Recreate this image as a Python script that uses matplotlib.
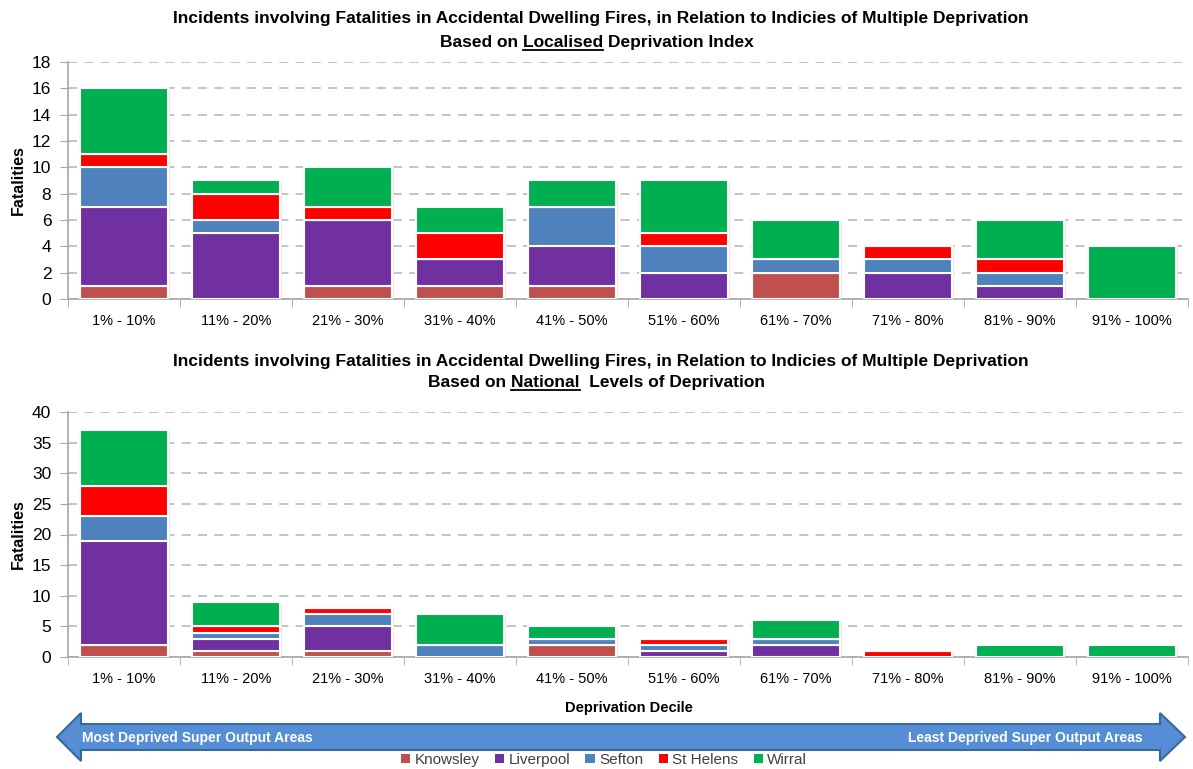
import matplotlib
matplotlib.use('Agg')
import matplotlib.pyplot as plt
import numpy as np
from matplotlib.patches import Polygon, Patch
from matplotlib.lines import Line2D

plt.rcParams['font.family'] = ['Liberation Sans Narrow', 'Liberation Sans', 'DejaVu Sans']

deciles = ['1% - 10%', '11% - 20%', '21% - 30%', '31% - 40%', '41% - 50%',
           '51% - 60%', '61% - 70%', '71% - 80%', '81% - 90%', '91% - 100%']
areas = ['Knowsley', 'Liverpool', 'Sefton', 'St Helens', 'Wirral']
area_colours = ['#C0504D', '#7030A0', '#4F81BD', '#FF0000', '#00B050']

# localised deprivation index
local_knowsley = [1, 0, 1, 1, 1, 0, 2, 0, 0, 0]
local_liverpool = [6, 5, 5, 2, 3, 2, 0, 2, 1, 0]
local_sefton = [3, 1, 0, 0, 3, 2, 1, 1, 1, 0]
local_sthelens = [1, 2, 1, 2, 0, 1, 0, 1, 1, 0]
local_wirral = [5, 1, 3, 2, 2, 4, 3, 0, 3, 4]

# national levels of deprivation
national_knowsley = [2, 1, 1, 0, 2, 0, 0, 0, 0, 0]
national_liverpool = [17, 2, 4, 0, 0, 1, 2, 0, 0, 0]
national_sefton = [4, 1, 2, 2, 1, 1, 1, 0, 0, 0]
national_sthelens = [5, 1, 1, 0, 0, 1, 0, 1, 0, 0]
national_wirral = [9, 4, 0, 5, 2, 0, 3, 0, 2, 2]

TITLE_1 = 'Incidents involving Fatalities in Accidental Dwelling Fires, in Relation to Indicies of Multiple Deprivation'
W, H = 1193, 769
GRID = '#BFBFBF'
AXIS = '#A6A6A6'
TITLE_SIZE = 12.5


def stacked_bars(ax, series, ymax, step):
    x = np.arange(len(deciles))
    width = 0.78
    totals = np.sum(series, axis=0)
    # soft shadow behind each column
    ax.bar(x + 0.008, totals + 0.006 * ymax, width + 0.03, bottom=-0.006 * ymax,
           color='#EBEBEB', zorder=1, linewidth=0)
    bottom = np.zeros(len(deciles))
    for vals, col in zip(series, area_colours):
        vals = np.array(vals, dtype=float)
        ax.bar(x, vals, width, bottom=bottom, color=col, edgecolor='white',
               linewidth=1.5, zorder=3)
        bottom += vals
    ax.set_xlim(-0.5, len(deciles) - 0.5)
    ax.set_ylim(0, ymax)
    ax.set_yticks(np.arange(0, ymax + 1, step))
    ax.set_xticks(x)
    ax.set_xticklabels(deciles, fontsize=10.5)
    ax.set_xticks(np.arange(-0.5, len(deciles)), minor=True)
    ax.tick_params(axis='x', which='major', length=0, pad=11)
    ax.tick_params(axis='x', which='minor', length=6, color=AXIS, direction='out')
    ax.tick_params(axis='y', length=6, color=AXIS, labelsize=12.5, pad=6)
    ax.yaxis.grid(True, linestyle=(0, (5, 4)), color=GRID, linewidth=1.3, zorder=0)
    ax.set_axisbelow(True)
    for s in ['top', 'right']:
        ax.spines[s].set_visible(False)
    for s in ['left', 'bottom']:
        ax.spines[s].set_color(AXIS)
        ax.spines[s].set_linewidth(1.2)
    ax.set_ylabel('Fatalities', fontsize=11.5, fontweight='bold')
    ax.yaxis.set_label_coords(-0.038, 0.5)


def underlined_title(fig, y_px, before, word, after, size):
    y = 1 - y_px / H
    props = dict(fontsize=size, fontweight='bold')
    full = fig.text(0.5, y, before + word + after, ha='center', va='baseline', **props)
    r = fig.canvas.get_renderer()
    bb = full.get_window_extent(r)
    t1 = fig.text(0, 0, before + word, **props)
    t2 = fig.text(0, 0, word, **props)
    w1 = t1.get_window_extent(r).width
    w2 = t2.get_window_extent(r).width
    t1.remove()
    t2.remove()
    x0 = bb.x0 + w1 - w2
    x1 = bb.x0 + w1
    yl = y * H - 3
    fig.add_artist(Line2D([x0 / W, x1 / W], [yl / H, yl / H], color='black', linewidth=1.3))


fig = plt.figure(figsize=(W / 100, H / 100), dpi=100)
ax1 = fig.add_axes([68 / W, 1 - 299 / H, 1120 / W, 237 / H])
ax2 = fig.add_axes([68 / W, 1 - 657 / H, 1120 / W, 245 / H])

stacked_bars(ax1, [local_knowsley, local_liverpool, local_sefton, local_sthelens, local_wirral], 18, 2)
stacked_bars(ax2, [national_knowsley, national_liverpool, national_sefton, national_sthelens, national_wirral], 40, 5)

fig.canvas.draw()
fig.text(0.504, 1 - 23 / H, TITLE_1, ha='center', va='baseline', fontsize=TITLE_SIZE, fontweight='bold')
underlined_title(fig, 47, 'Based on ', 'Localised', ' Deprivation Index', TITLE_SIZE)
fig.text(0.504, 1 - 366 / H, TITLE_1, ha='center', va='baseline', fontsize=TITLE_SIZE, fontweight='bold')
underlined_title(fig, 387, 'Based on ', 'National', '  Levels of Deprivation', TITLE_SIZE)

fig.text(629 / W, 1 - 708 / H, 'Deprivation Decile', ha='center', va='center',
         fontsize=10.5, fontweight='bold')

# double headed arrow along the bottom
pts = [(57, 737), (81, 713), (81, 724), (1160, 724), (1160, 713), (1185, 737),
       (1160, 761), (1160, 750), (81, 750), (81, 761)]
arrow = Polygon([(px / W, 1 - py / H) for px, py in pts], closed=True,
                facecolor='#558ED5', edgecolor='#3A679C', linewidth=1.5,
                transform=fig.transFigure)
fig.add_artist(arrow)
fig.text(82 / W, 1 - 738 / H, 'Most Deprived Super Output Areas', ha='left', va='center',
         color='white', fontsize=10, fontweight='bold')
fig.text(1143 / W, 1 - 738 / H, 'Least Deprived Super Output Areas', ha='right', va='center',
         color='white', fontsize=10, fontweight='bold')

handles = [Patch(facecolor=c, edgecolor='none') for c in area_colours]
fig.legend(handles, areas, loc='center', bbox_to_anchor=(604 / W, 1 - 760 / H), ncol=5,
           frameon=False, fontsize=11, handlelength=0.6, handleheight=0.6,
           handletextpad=0.3, columnspacing=1.0, labelcolor='#404040')

fig.savefig('out.png', dpi=100)
